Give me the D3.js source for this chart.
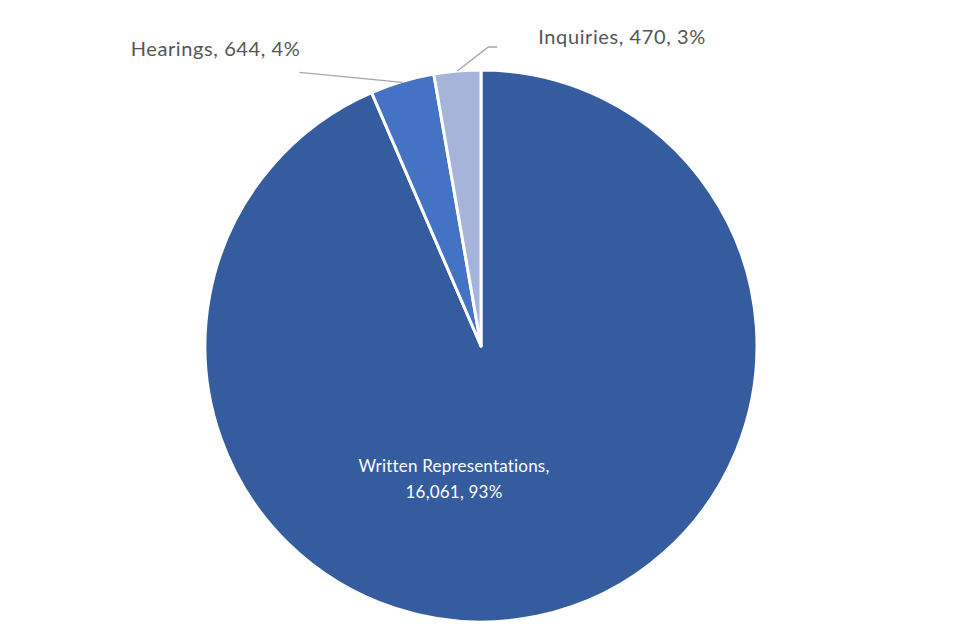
<!DOCTYPE html>
<html>
<head>
    <meta charset="UTF-8">
    <title>Appeal procedures pie</title>
    <script src="https://cdn.jsdelivr.net/npm/d3@7"></script>
    <style>
        body { margin: 0; background: #fff; }
        text { font-family: Lato, "Open Sans", sans-serif; }
    </style>
</head>
<body>
<svg id="pie"></svg>
<script>
// chart values
const categories = ["Written Representations", "Hearings", "Inquiries"];
const counts = [16061, 644, 470];
const percentLabels = ["93%", "4%", "3%"];   // as printed on the chart
const colours = ["#345c9f", "#4472c4", "#a7b4da"];

const width = 960, height = 640;
const cx = 481, cy = 346, radius = 276;

const svg = d3.select("#pie")
    .attr("width", width)
    .attr("height", height);

const g = svg.append("g")
    .attr("transform", `translate(${cx},${cy})`);

const data = categories.map((c, i) => ({name: c, value: counts[i], pct: percentLabels[i], colour: colours[i]}));

const pie = d3.pie()
    .sort(null)
    .value(d => d.value);
const arcs = pie(data);

const arc = d3.arc().innerRadius(0).outerRadius(radius);

g.selectAll("path")
    .data(arcs)
    .join("path")
    .attr("d", arc)
    .attr("fill", d => d.data.colour)
    .attr("stroke", "#fff")
    .attr("stroke-width", 3)
    .attr("stroke-linejoin", "round");

const fmt = d3.format(",");

// point on the rim at the middle of a slice
function rim(d, r) {
    const a = (d.startAngle + d.endAngle) / 2;
    return [Math.sin(a) * r, -Math.cos(a) * r];
}

// big slice: label inside, two lines
const w = arcs[0];
const inner = g.append("text")
    .attr("fill", "#fff")
    .attr("font-size", 17)
    .attr("text-anchor", "middle")
    .attr("letter-spacing", 0.2)
    .attr("transform", "translate(-27,126)");
inner.append("tspan").attr("x", 0).attr("dy", 0).text(w.data.name + ",");
inner.append("tspan").attr("x", 0).attr("dy", 26).text(fmt(w.data.value) + ", " + w.data.pct);

// Hearings: leader goes left
const h = arcs[1];
const hp = rim(h, radius - 1);
g.append("polyline")
    .attr("points", [hp, [hp[0] - 103, hp[1] - 10]].map(p => p.join(",")).join(" "))
    .attr("fill", "none")
    .attr("stroke", "#a6a6a6")
    .attr("stroke-width", 1.3);
g.append("text")
    .attr("x", hp[0] - 102)
    .attr("y", hp[1] - 26)
    .attr("text-anchor", "end")
    .attr("font-size", 20)
    .attr("letter-spacing", 0.6)
    .attr("fill", "#555")
    .text(`${h.data.name}, ${fmt(h.data.value)}, ${h.data.pct}`);

// Inquiries: leader goes up and right
const q = arcs[2];
const qp = rim(q, radius);
g.append("polyline")
    .attr("points", [qp, [qp[0] + 31, qp[1] - 24], [qp[0] + 40, qp[1] - 24]].map(p => p.join(",")).join(" "))
    .attr("fill", "none")
    .attr("stroke", "#a6a6a6")
    .attr("stroke-width", 1.3);
g.append("text")
    .attr("x", qp[0] + 81)
    .attr("y", qp[1] - 27)
    .attr("font-size", 20)
    .attr("letter-spacing", 0.6)
    .attr("fill", "#555")
    .text(`${q.data.name}, ${fmt(q.data.value)}, ${q.data.pct}`);
</script>
</body>
</html>
